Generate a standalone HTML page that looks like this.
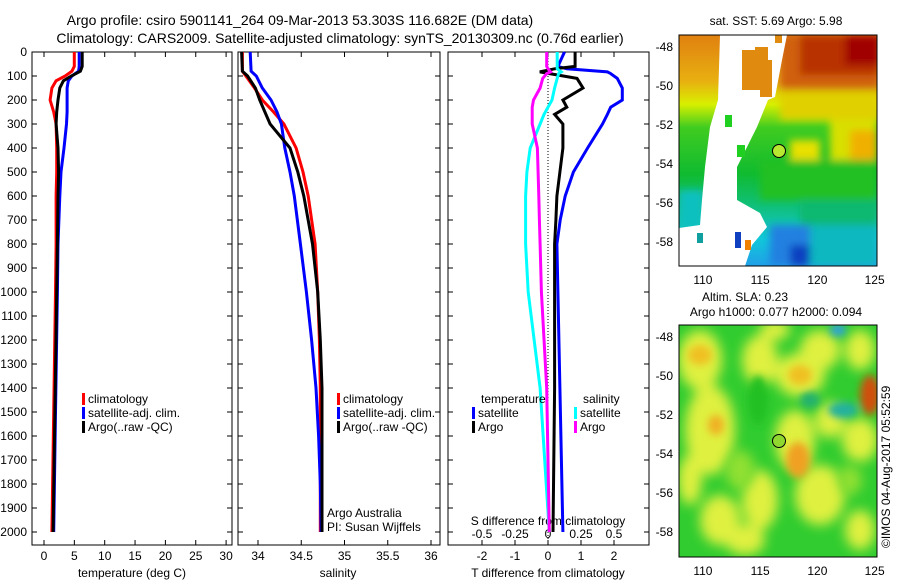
<!DOCTYPE html>
<html><head><meta charset="utf-8">
<style>
body{margin:0;background:#fff;width:900px;height:580px;overflow:hidden;font-family:"Liberation Sans",sans-serif;}
svg text{font-family:"Liberation Sans",sans-serif;fill:#000;}
</style></head>
<body>
<svg id="chart" width="900" height="580" viewBox="0 0 900 580" xmlns="http://www.w3.org/2000/svg">
<defs>
<filter id="blur4" x="-50%" y="-50%" width="200%" height="200%"><feGaussianBlur stdDeviation="4"/></filter>
<filter id="blur6" x="-50%" y="-50%" width="200%" height="200%"><feGaussianBlur stdDeviation="6"/></filter>
<clipPath id="clip1"><rect x="679" y="35" width="198" height="231"/></clipPath>
<clipPath id="clip2"><rect x="679" y="325" width="198" height="232"/></clipPath>
</defs>
<text x="300" y="25" font-size="14" text-anchor="middle">Argo profile: csiro 5901141_264 09-Mar-2013 53.303S 116.682E (DM data)</text>
<text x="340" y="43" font-size="14" text-anchor="middle">Climatology: CARS2009. Satellite-adjusted climatology: synTS_20130309.nc (0.76d earlier)</text>
<g id="g"></g>

<!-- SST map -->
<g clip-path="url(#clip1)">
<defs><linearGradient id="sstg" x1="0" y1="0" x2="0" y2="1">
<stop offset="0" stop-color="#e08010"/><stop offset="0.2" stop-color="#e8b010"/><stop offset="0.3" stop-color="#d8f000"/>
<stop offset="0.4" stop-color="#40cc20"/><stop offset="0.6" stop-color="#10bb30"/><stop offset="0.75" stop-color="#10c080"/>
<stop offset="0.88" stop-color="#10c8d8"/><stop offset="1" stop-color="#20a0e8"/></linearGradient></defs>
<rect x="679" y="35" width="198" height="231" fill="url(#sstg)"/>
<g filter="url(#blur4)">
<rect x="780" y="35" width="100" height="60" fill="#d06010"/>
<rect x="800" y="35" width="80" height="40" fill="#b83000"/>
<rect x="845" y="35" width="35" height="30" fill="#a00000"/>
<rect x="780" y="90" width="100" height="30" fill="#e0d000"/>
<rect x="830" y="120" width="47" height="40" fill="#d8e000"/>
<rect x="850" y="130" width="27" height="30" fill="#f0b000"/>
<rect x="790" y="140" width="30" height="20" fill="#e8e000"/>
<rect x="760" y="160" width="117" height="40" fill="#20c020"/>
<rect x="800" y="200" width="77" height="50" fill="#10b870"/>
<rect x="770" y="225" width="40" height="41" fill="#2080e0"/>
<rect x="790" y="245" width="40" height="21" fill="#1040c0"/>
<rect x="810" y="225" width="67" height="41" fill="#10b8c0"/>
<rect x="679" y="190" width="25" height="40" fill="#10c0c0"/>
</g>
<polygon fill="#fff" points="720,35 787,35 782,60 775,97 768,100 757,127 737,167 737,200 760,213 767,227 752,245 745,266 679,266 679,228 700,225 702,200 705,167 710,127 718,100"/>
<polygon fill="#e08a10" points="742,50 755,50 755,47 768,47 768,60 772,60 772,97 760,97 760,90 742,90"/>
<rect x="775" y="35" width="7" height="8" fill="#e08a10"/>
<rect x="725" y="115" width="7" height="12" fill="#20d020"/>
<rect x="737" y="145" width="8" height="12" fill="#20d020"/>
<rect x="735" y="232" width="6" height="16" fill="#1040c0"/>
<rect x="745" y="240" width="6" height="10" fill="#f08000"/>
<rect x="697" y="233" width="6" height="10" fill="#10a0a0"/>
</g>
<rect x="679" y="35" width="198" height="231" fill="none" stroke="#000"/>
<circle cx="779" cy="151" r="6.5" fill="#b8e830" stroke="#000"/>

<!-- SLA map -->
<g clip-path="url(#clip2)">
<rect x="679" y="325" width="198" height="232" fill="#30cc30"/>
<g filter="url(#blur6)" fill="#dff040">
<ellipse cx="700" cy="360" rx="22" ry="30"/><ellipse cx="710" cy="430" rx="25" ry="45"/>
<ellipse cx="760" cy="360" rx="18" ry="25"/><ellipse cx="800" cy="375" rx="25" ry="22"/>
<ellipse cx="820" cy="350" rx="20" ry="20"/><ellipse cx="795" cy="440" rx="20" ry="30"/>
<ellipse cx="830" cy="420" rx="15" ry="18"/><ellipse cx="860" cy="440" rx="18" ry="22"/>
<ellipse cx="860" cy="350" rx="15" ry="20"/><ellipse cx="820" cy="495" rx="25" ry="30"/>
<ellipse cx="760" cy="500" rx="18" ry="30"/><ellipse cx="720" cy="520" rx="20" ry="25"/>
<ellipse cx="860" cy="530" rx="15" ry="20"/><ellipse cx="745" cy="540" rx="20" ry="15"/>
<ellipse cx="690" cy="480" rx="12" ry="25"/><ellipse cx="775" cy="330" rx="15" ry="10"/>
</g>
<g filter="url(#blur6)" fill="#90e030">
<ellipse cx="740" cy="470" rx="15" ry="20"/><ellipse cx="850" cy="480" rx="12" ry="15"/>
</g>
<g filter="url(#blur4)">
<ellipse cx="700" cy="355" rx="12" ry="10" fill="#f0c020"/>
<ellipse cx="716" cy="425" rx="8" ry="10" fill="#f0b020"/>
<ellipse cx="800" cy="375" rx="12" ry="10" fill="#f0c020"/>
<ellipse cx="798" cy="460" rx="12" ry="18" fill="#f0a020"/>
<ellipse cx="870" cy="395" rx="10" ry="20" fill="#d05010"/>
<ellipse cx="838" cy="330" rx="8" ry="6" fill="#30a0e0"/>
<ellipse cx="843" cy="410" rx="15" ry="8" fill="#20b0a0"/>
<ellipse cx="810" cy="400" rx="10" ry="8" fill="#20b070"/>
<ellipse cx="758" cy="400" rx="10" ry="25" fill="#20c020"/>
</g>
</g>
<rect x="679" y="325" width="198" height="232" fill="none" stroke="#000"/>
<circle cx="779" cy="441" r="6.5" fill="#90d830" stroke="#000"/>

<text x="776" y="25" font-size="12" text-anchor="middle">sat. SST: 5.69 Argo: 5.98</text>
<text x="745" y="301" font-size="12" text-anchor="middle">Altim. SLA: 0.23</text>
<text x="776" y="316" font-size="12" text-anchor="middle">Argo h1000: 0.077 h2000: 0.094</text>
<text transform="translate(890,548) rotate(-90)" font-size="12">©IMOS 04-Aug-2017 05:52:59</text>
</svg>
<script>
// ---- data ----
const depthTicks = [0,100,200,300,400,500,600,700,800,900,1000,1100,1200,1300,1400,1500,1600,1700,1800,1900,2000];
const tempTicks = [0,5,10,15,20,25,30];
const salTicks = [34,34.5,35,35.5,36];
const tdiffTicks = [-2,-1,0,1,2];
const sdiffTicks = [-0.5,-0.25,0,0.25,0.5];
const latTicks = [-48,-50,-52,-54,-56,-58];
const lonTicks = [110,115,120,125];

const tDepth = [0,60,80,100,120,150,200,250,300,400,500,600,800,1000,1500,2000];
const tClim = [5.0,5.0,4.6,3.5,2.0,1.3,1.0,1.6,2.0,2.1,2.1,2.0,2.0,1.9,1.6,1.3];
const tSat = [5.8,5.8,5.7,4.6,4.0,3.8,3.8,3.8,3.7,3.3,2.8,2.6,2.3,2.2,1.9,1.6];
const tArgo = [6.3,6.3,6.0,4.5,3.2,2.6,2.3,2.1,2.0,2.3,2.4,2.3,2.2,2.1,1.8,1.5];

const sDepth = [0,80,100,150,200,250,300,400,500,600,800,1000,1200,1400,1600,1800,2000];
const sClim = [33.82,33.82,33.86,33.96,34.05,34.18,34.30,34.44,34.52,34.58,34.66,34.69,34.71,34.72,34.72,34.72,34.72];
const sSat = [33.91,33.92,33.98,34.05,34.15,34.22,34.27,34.31,34.37,34.42,34.49,34.56,34.62,34.67,34.70,34.72,34.73];
const sArgo = [33.81,33.82,33.88,33.97,34.02,34.08,34.14,34.37,34.46,34.53,34.63,34.69,34.72,34.74,34.74,34.74,34.74];

const dDepth = [0,60,70,83,90,110,150,200,230,260,300,400,500,600,700,800,1000,1400,2000];
const dTSat = [0.5,0.3,0.57,1.8,1.9,2.1,2.25,2.25,1.9,1.8,1.65,1.2,0.77,0.52,0.37,0.27,0.3,0.36,0.45];
const dTArgo = [0.82,0.82,0.2,-0.25,0.05,0.88,1.06,0.45,0.57,0.2,0.45,0.45,0.36,0.27,0.24,0.2,0.2,0.2,0.15];
const dSSat = [0.07,0.07,0.07,0.1,0.08,0.07,0.05,0.03,0.0,-0.03,-0.06,-0.135,-0.16,-0.17,-0.17,-0.17,-0.15,-0.06,0.01];
const dSArgo = [-0.01,-0.01,0.0,0.02,-0.01,-0.04,-0.06,-0.11,-0.12,-0.12,-0.12,-0.08,-0.075,-0.07,-0.065,-0.06,-0.05,-0.01,0.01];

// ---- scales ----
const NS='http://www.w3.org/2000/svg';
const g=document.getElementById('g');
const Y0=52, YB=545;
const yD=d=>Y0+d*0.24;
const xT=t=>44+t*6.07;
const xS=s=>258+(s-34)*86.5;
const xDT=v=>548+v*33;
const xDS=v=>548+v*132;
function el(tag,attrs,parent){const e=document.createElementNS(NS,tag);for(const k in attrs)e.setAttribute(k,attrs[k]);(parent||g).appendChild(e);return e;}
function txt(x,y,s,anchor,size,parent){const t=el('text',{x:x,y:y,'font-size':size||12,'text-anchor':anchor||'middle'},parent);t.textContent=s;return t;}

const panels=[{x:32,w:200,name:'temperature-panel'},{x:238,w:202,name:'salinity-panel'},{x:448,w:201,name:'difference-panel'}];
panels.forEach(p=>{
  const r=el('rect',{x:p.x,y:Y0,width:p.w,height:YB-Y0,fill:'none',stroke:'#000'});
  
  
  depthTicks.forEach(d=>{
    el('line',{x1:p.x,x2:p.x+5,y1:yD(d),y2:yD(d),stroke:'#000'});
    el('line',{x1:p.x+p.w-5,x2:p.x+p.w,y1:yD(d),y2:yD(d),stroke:'#000'});
  });
});
depthTicks.forEach(d=>{
  const t=txt(27,yD(d)+4,String(d),'end',12);
  
  
});
function xticks(vals,fx,y,labels){
  vals.forEach((v,i)=>{
    el('line',{x1:fx(v),x2:fx(v),y1:YB,y2:YB-5,stroke:'#000'});
    el('line',{x1:fx(v),x2:fx(v),y1:Y0,y2:Y0+5,stroke:'#000'});
    if(labels){const t=txt(fx(v),y,String(v),'middle',12);
      
      }
  });
}
xticks(tempTicks,xT,560,true);
xticks(salTicks,xS,560,true);
xticks(tdiffTicks,xDT,560,true);
sdiffTicks.forEach(v=>{const t=txt(xDS(v),538,String(v),'middle',12);
  
  });
let a;
a=txt(132,577,'temperature (deg C)');
a=txt(338,577,'salinity');
a=txt(548,577,'T difference from climatology');
a=txt(548,525,'S difference from climatology');

function line(depths,vals,fx,color,name){
  const pts=depths.map((d,i)=>fx(vals[i]).toFixed(1)+','+yD(d).toFixed(1)).join(' ');
  const p=el('polyline',{points:pts,fill:'none',stroke:color,'stroke-width':3,'stroke-linejoin':'miter'});
  
  
}
line(tDepth,tClim,xT,'#ff0000','temp-climatology-line');
line(tDepth,tSat,xT,'#0000ff','temp-satellite-line');
line(tDepth,tArgo,xT,'#000000','temp-argo-line');
line(sDepth,sClim,xS,'#ff0000','sal-climatology-line');
line(sDepth,sSat,xS,'#0000ff','sal-satellite-line');
line(sDepth,sArgo,xS,'#000000','sal-argo-line');
el('line',{x1:xDT(0),x2:xDT(0),y1:Y0,y2:YB,stroke:'#000','stroke-dasharray':'1,2'});
line(dDepth,dTSat,xDT,'#0000ff','tdiff-satellite-line');
line(dDepth,dTArgo,xDT,'#000000','tdiff-argo-line');
line(dDepth,dSSat,xDS,'#00ffff','sdiff-satellite-line');
line(dDepth,dSArgo,xDS,'#ff00ff','sdiff-argo-line');

function legend(x,y,color,label,name){
  const r=el('rect',{x:x,y:y-10,width:3,height:12,fill:color});
  const t=txt(x+6,y,label,'start',12);
  
  
}
legend(82,403,'#ff0000','climatology','legend-climatology');
legend(82,417,'#0000ff','satellite-adj. clim.','legend-satellite');
legend(82,431,'#000000','Argo(..raw -QC)','legend-argo');
legend(337,403,'#ff0000','climatology','legend-climatology-2');
legend(337,417,'#0000ff','satellite-adj. clim.','legend-satellite-2');
legend(337,431,'#000000','Argo(..raw -QC)','legend-argo-2');
a=txt(481,403,'temperature','start',12);
a=txt(583,403,'salinity','start',12);
legend(472,417,'#0000ff','satellite','legend-t-satellite');
legend(472,431,'#000000','Argo','legend-t-argo');
legend(574,417,'#00ffff','satellite','legend-s-satellite');
legend(574,431,'#ff00ff','Argo','legend-s-argo');
a=txt(327,517,'Argo Australia','start',12);
a=txt(327,531,'PI: Susan Wijffels','start',12);

// map axes
const mx=679,mw=198;
const xLon=l=>680+(l-108)*11.45;
function mapAxes(top,h,yLat){
  latTicks.forEach(l=>{
    el('line',{x1:mx,x2:mx+4,y1:yLat(l),y2:yLat(l),stroke:'#000'});
    el('line',{x1:mx+mw-4,x2:mx+mw,y1:yLat(l),y2:yLat(l),stroke:'#000'});
    const t=txt(673,yLat(l)+4,String(l),'end',12);
    
    
  });
  lonTicks.forEach(l=>{
    el('line',{x1:xLon(l),x2:xLon(l),y1:top+h,y2:top+h-4,stroke:'#000'});
    el('line',{x1:xLon(l),x2:xLon(l),y1:top,y2:top+4,stroke:'#000'});
    const t=txt(xLon(l),top+h+18,String(l),'middle',12);
    
    
  });
}
mapAxes(35,231,l=>47+(-48-l)*19.5);
mapAxes(325,232,l=>337+(-48-l)*19.5);
</script>
</body></html>
